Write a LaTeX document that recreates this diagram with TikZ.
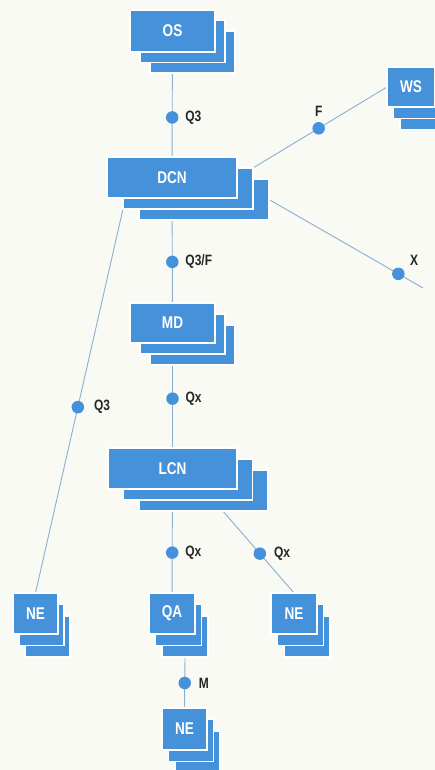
\documentclass[tikz,border=0pt]{standalone}
\usepackage{fontspec}
\setmainfont{Liberation Sans}[FakeStretch=0.8]
\usetikzlibrary{calc}
\pgfdeclarelayer{bg}
\pgfdeclarelayer{paperlayer}
\pgfsetlayers{paperlayer,bg,main}
\definecolor{boxblue}{HTML}{4592DA}
\definecolor{linec}{HTML}{8AAFD0}
\definecolor{paper}{HTML}{FAFAF5}
\tikzset{
 layer/.style={fill=boxblue, draw=white, line width=1.3pt, inner sep=0pt, outer sep=0pt,
   text=white, font=\bfseries\fontsize{17}{17}\selectfont},
 conn/.style={draw=linec, line width=0.9pt},
 dot/.style={circle, fill=boxblue, draw=none, inner sep=0pt, minimum size=12.5pt},
 lab/.style={font=\bfseries\fontsize{15}{15}\selectfont, text=black!85, inner sep=1pt},
}
% #1 name, #2 x, #3 y, #4 w, #5 h, #6 dx, #7 dy, #8 text
\newcommand\mystack[8]{%
 \node[layer, minimum width=#4pt, minimum height=#5pt] (#1-3) at (#2+2*#6, #3+2*#7) {};
 \node[layer, minimum width=#4pt, minimum height=#5pt] (#1-2) at (#2+#6, #3+#7) {};
 \node[layer, minimum width=#4pt, minimum height=#5pt] (#1) at (#2, #3) {#8};
}
\begin{document}
\begin{tikzpicture}[x=1pt, y=-1pt]
\useasboundingbox (0,0) rectangle (435,770);
\clip (0,0) rectangle (435,770);
\begin{pgfonlayer}{paperlayer}
\fill[paper] (0,0) rectangle (435,770);
\end{pgfonlayer}

\mystack{OS}{172.5}{31}{85}{42}{10}{10.5}{OS}
\mystack{DCN}{172}{177.5}{130}{41}{16}{11}{DCN}
\mystack{WS}{411}{87}{48}{40}{6.5}{11.5}{WS}
\mystack{MD}{172.5}{323}{85}{40}{10}{11}{MD}
\mystack{LCN}{172.5}{468.5}{129}{41}{15.5}{11}{LCN}
\mystack{NEa}{35.5}{613.5}{45}{41}{6}{11.5}{NE}
\mystack{QA}{172}{613.5}{46}{41}{6.5}{11.5}{QA}
\mystack{NEb}{294}{613.5}{46}{41}{6.5}{11.5}{NE}
\mystack{NEc}{184.5}{729}{45}{42}{6.5}{11.5}{NE}

\coordinate (Xend) at (423,288);
\coordinate (LCNout) at ($(LCN-3.south west)!0.65!(LCN-3.south east)$);

\begin{pgfonlayer}{bg}
\draw[conn] (OS.center) -- node[dot, pos=0.59, label={[lab,label distance=5pt]right:Q3}] (d1) {} (DCN.center);
\draw[conn] (DCN-2.north east) -- node[dot, pos=0.49, label={[lab,label distance=4pt]above:F}] (d2) {} (WS.west);
\draw[conn] (DCN-3.east) -- node[dot, pos=0.84, label={[lab,label distance=6pt]35:X}] (d3) {} (Xend);
\draw[conn] (DCN.center) -- node[dot, pos=0.58, label={[lab,label distance=5pt]right:Q3/F}] (d4) {} (MD.center);
\draw[conn] (MD.center) -- node[dot, pos=0.52, label={[lab,label distance=5pt]right:Qx}] (d5) {} (LCN.center);
\draw[conn] (DCN-2.south west) -- node[dot, pos=0.516, label={[lab,label distance=8pt]right:Q3}] (d6) {} (NEa.north);
\draw[conn] (LCN.center) -- node[dot, pos=0.58, label={[lab,label distance=5pt]right:Qx}] (d7) {} (QA.center);
\draw[conn] (LCNout) -- node[dot, pos=0.52, label={[lab,label distance=6pt]right:Qx}] (d8) {} (NEb.north);
\draw[conn] (QA-3.south) -- node[dot, pos=0.51, label={[lab,label distance=6pt]right:M}] (d9) {} (NEc.north);
\end{pgfonlayer}
\end{tikzpicture}
\end{document}
